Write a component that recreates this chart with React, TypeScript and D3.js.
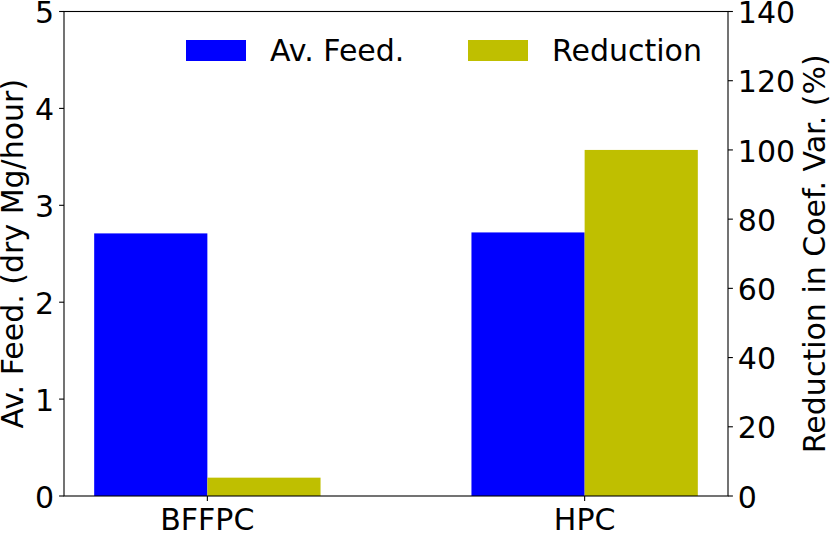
import React from "react";
import * as d3 from "d3";

const categories = ["BFFPC", "HPC"];
const avFeed = [2.71, 2.72];
const reduction = [5.3, 100];
const leftTicks = [0, 1, 2, 3, 4, 5];
const rightTicks = [0, 20, 40, 60, 80, 100, 120, 140];
const seriesNames = ["Av. Feed.", "Reduction"];
const colors = ["#0000ff", "#bfbf00"];

const W = 830;
const H = 536;
const FONT = "DejaVu Sans, sans-serif";
const FS = 30;

export default function App() {
  const left = 64;
  const right = 728;
  const top = 11.5;
  const bottom = 496;
  const barW = 0.3;

  const x = d3.scaleLinear().domain([-0.38, 1.38]).range([left, right]);
  const yL = d3.scaleLinear().domain([0, 5]).range([bottom, top]);
  const yR = d3.scaleLinear().domain([0, 140]).range([bottom, top]);
  const tickLen = 4.9;
  const legendX = [186, 468];

  return (
    <svg
      width={W}
      height={H}
      style={{ position: "absolute", left: 0, top: 0, background: "#fff" }}
      fontFamily={FONT}
    >
      <rect x={0} y={0} width={W} height={H} fill="#fff" />
      {categories.map((c, i) => (
        <g key={c}>
          <rect
            x={x(i - barW)}
            y={yL(avFeed[i])}
            width={x(i) - x(i - barW)}
            height={yL(0) - yL(avFeed[i])}
            fill={colors[0]}
          />
          <rect
            x={x(i)}
            y={yR(reduction[i])}
            width={x(i + barW) - x(i)}
            height={yR(0) - yR(reduction[i])}
            fill={colors[1]}
          />
        </g>
      ))}
      <rect
        x={left}
        y={top}
        width={right - left}
        height={bottom - top}
        fill="none"
        stroke="#000"
        strokeWidth={1.1}
      />
      {leftTicks.map((t) => (
        <g key={"l" + t}>
          <line x1={left - tickLen} x2={left} y1={yL(t)} y2={yL(t)} stroke="#000" strokeWidth={1.1} />
          <text x={left - tickLen - 5} y={yL(t)} dy="0.39em" textAnchor="end" fontSize={FS}>
            {t}
          </text>
        </g>
      ))}
      {rightTicks.map((t) => (
        <g key={"r" + t}>
          <line x1={right} x2={right + tickLen} y1={yR(t)} y2={yR(t)} stroke="#000" strokeWidth={1.1} />
          <text x={right + tickLen + 4.9} y={yR(t)} dy="0.39em" textAnchor="start" fontSize={FS}>
            {t}
          </text>
        </g>
      ))}
      {categories.map((c, i) => (
        <g key={"x" + c}>
          <line x1={x(i)} x2={x(i)} y1={bottom} y2={bottom + tickLen} stroke="#000" strokeWidth={1.1} />
          <text x={x(i)} y={530} textAnchor="middle" fontSize={FS}>
            {c}
          </text>
        </g>
      ))}
      <text
        transform={`translate(23.3, ${(top + bottom) / 2}) rotate(-90)`}
        textAnchor="middle"
        fontSize={FS}
      >
        Av. Feed. (dry Mg/hour)
      </text>
      <text
        transform={`translate(825, ${(top + bottom) / 2}) rotate(-90)`}
        textAnchor="middle"
        fontSize={FS}
      >
        Reduction in Coef. Var. (%)
      </text>
      {seriesNames.map((s, i) => {
        const hx = legendX[i];
        return (
          <g key={s}>
            <rect x={hx} y={40} width={60} height={21} fill={colors[i]} />
            <text x={hx + 84} y={60.5} fontSize={FS}>
              {s}
            </text>
          </g>
        );
      })}
    </svg>
  );
}
